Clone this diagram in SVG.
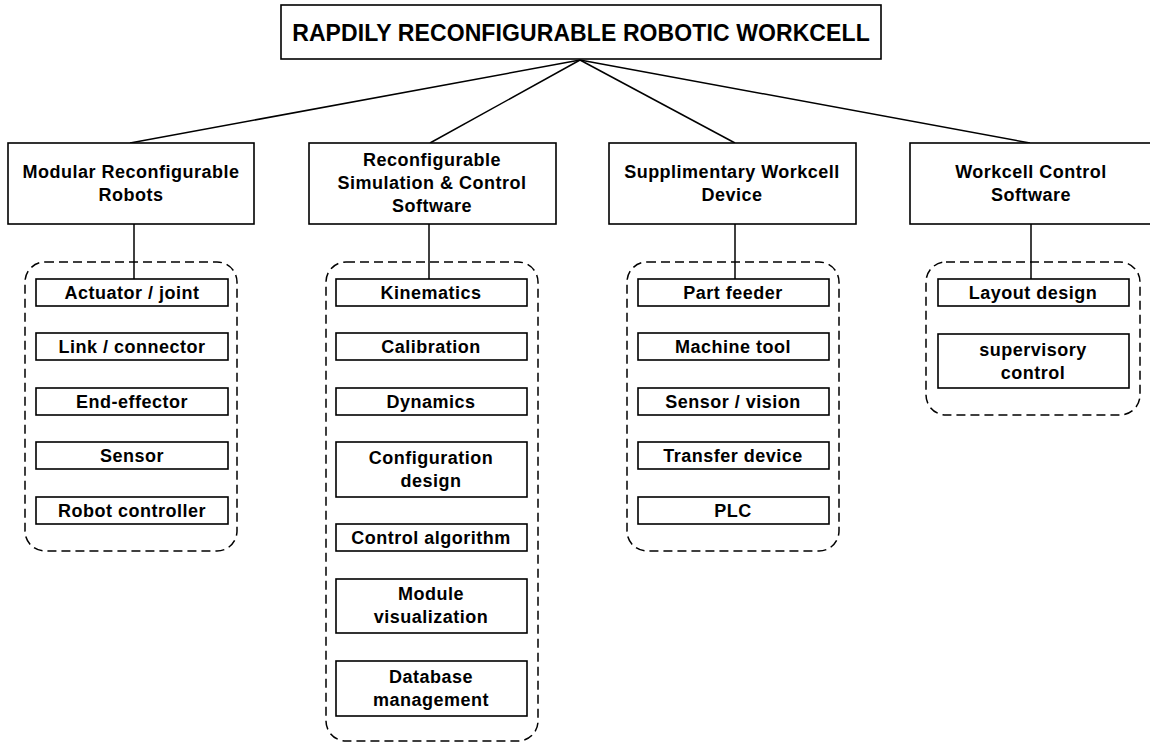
<svg xmlns="http://www.w3.org/2000/svg" width="1150" height="743" viewBox="0 0 1150 743">
<style>
.b{fill:#fff;stroke:#000;stroke-width:1.6}
.d{fill:none;stroke:#000;stroke-width:1.5;stroke-dasharray:9 5}
.c{fill:none;stroke:#000;stroke-width:1.5}
text{font-family:"Liberation Sans",Arial,sans-serif;font-weight:bold;fill:#000;text-anchor:middle}
.t{font-size:23px;letter-spacing:0.1px}
.m{font-size:18px;letter-spacing:0.5px}
</style>
<rect width="1150" height="743" fill="#fff"/>
<g id="groups">
<rect class="d" x="25" y="262" width="212" height="289" rx="20"/>
<rect class="d" x="326" y="262" width="212" height="479" rx="20"/>
<rect class="d" x="627" y="262" width="212" height="289" rx="20"/>
<rect class="d" x="926" y="262" width="214" height="153" rx="20"/>
</g>
<g id="connectors">
<line class="c" x1="580" y1="60" x2="130" y2="143"/>
<line class="c" x1="580" y1="60" x2="430" y2="143"/>
<line class="c" x1="580" y1="60" x2="735" y2="143"/>
<line class="c" x1="580" y1="60" x2="1030" y2="143"/>
<line class="c" x1="134" y1="224" x2="134" y2="279"/>
<line class="c" x1="429" y1="224" x2="429" y2="279"/>
<line class="c" x1="735" y1="224" x2="735" y2="279"/>
<line class="c" x1="1031" y1="224" x2="1031" y2="279"/>
</g>
<g id="root"><rect class="b" x="281" y="5" width="600" height="54"/><text class="t" x="581" y="41">RAPDILY RECONFIGURABLE ROBOTIC WORKCELL</text></g>
<g id="n1"><rect class="b" x="8" y="143" width="246" height="81"/><text class="m" x="131" y="178">Modular Reconfigurable</text><text class="m" x="131" y="201">Robots</text></g>
<g id="n2"><rect class="b" x="309" y="143" width="247" height="81"/><text class="m" x="432" y="166">Reconfigurable</text><text class="m" x="432" y="189">Simulation &amp; Control</text><text class="m" x="432" y="212">Software</text></g>
<g id="n3"><rect class="b" x="609" y="143" width="247" height="81"/><text class="m" x="732" y="178">Supplimentary Workcell</text><text class="m" x="732" y="201">Device</text></g>
<g id="n4"><rect class="b" x="910" y="143" width="245" height="81"/><text class="m" x="1031" y="178">Workcell Control</text><text class="m" x="1031" y="201">Software</text></g>

<g id="a1"><rect class="b" x="36" y="279" width="192" height="27"/><text class="m" x="132" y="299">Actuator / joint</text></g>
<g id="a2"><rect class="b" x="36" y="333" width="192" height="27"/><text class="m" x="132" y="353">Link / connector</text></g>
<g id="a3"><rect class="b" x="36" y="388" width="192" height="27"/><text class="m" x="132" y="408">End-effector</text></g>
<g id="a4"><rect class="b" x="36" y="442" width="192" height="27"/><text class="m" x="132" y="462">Sensor</text></g>
<g id="a5"><rect class="b" x="36" y="497" width="192" height="27"/><text class="m" x="132" y="517">Robot controller</text></g>

<g id="b1"><rect class="b" x="336" y="279" width="191" height="27"/><text class="m" x="431" y="299">Kinematics</text></g>
<g id="b2"><rect class="b" x="336" y="333" width="191" height="27"/><text class="m" x="431" y="353">Calibration</text></g>
<g id="b3"><rect class="b" x="336" y="388" width="191" height="27"/><text class="m" x="431" y="408">Dynamics</text></g>
<g id="b4"><rect class="b" x="336" y="442" width="191" height="55"/><text class="m" x="431" y="464">Configuration</text><text class="m" x="431" y="487">design</text></g>
<g id="b5"><rect class="b" x="336" y="524" width="191" height="27"/><text class="m" x="431" y="544">Control algorithm</text></g>
<g id="b6"><rect class="b" x="336" y="579" width="191" height="54"/><text class="m" x="431" y="600">Module</text><text class="m" x="431" y="623">visualization</text></g>
<g id="b7"><rect class="b" x="336" y="661" width="191" height="55"/><text class="m" x="431" y="683">Database</text><text class="m" x="431" y="706">management</text></g>

<g id="c1"><rect class="b" x="638" y="279" width="191" height="27"/><text class="m" x="733" y="299">Part feeder</text></g>
<g id="c2"><rect class="b" x="638" y="333" width="191" height="27"/><text class="m" x="733" y="353">Machine tool</text></g>
<g id="c3"><rect class="b" x="638" y="388" width="191" height="27"/><text class="m" x="733" y="408">Sensor / vision</text></g>
<g id="c4"><rect class="b" x="638" y="442" width="191" height="27"/><text class="m" x="733" y="462">Transfer device</text></g>
<g id="c5"><rect class="b" x="638" y="497" width="191" height="27"/><text class="m" x="733" y="517">PLC</text></g>

<g id="d1"><rect class="b" x="938" y="279" width="191" height="27"/><text class="m" x="1033" y="299">Layout design</text></g>
<g id="d2"><rect class="b" x="938" y="334" width="191" height="54"/><text class="m" x="1033" y="356">supervisory</text><text class="m" x="1033" y="379">control</text></g>
</svg>
